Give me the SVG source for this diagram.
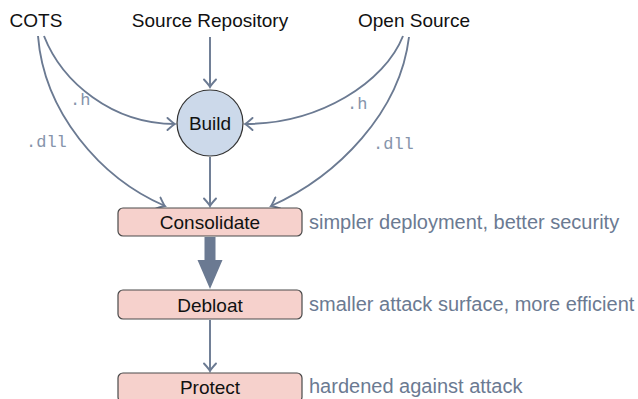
<svg xmlns="http://www.w3.org/2000/svg" width="638" height="399" viewBox="0 0 638 399">
  <style>
    .src { font-family: "Liberation Sans", Arial, sans-serif; font-size: 19px; fill: #111; text-anchor: middle; }
    .lbl { font-family: "Liberation Sans", Arial, sans-serif; font-size: 19px; fill: #111; text-anchor: middle; }
    .note { font-family: "Liberation Sans", Arial, sans-serif; font-size: 20px; fill: #6b7a92; }
    .ext { font-family: "Liberation Mono", "Courier New", monospace; font-size: 17px; fill: #8694ab; }
    .box { fill: #f6d1cc; stroke: #4a4a4a; stroke-width: 1.2; }
    .circ { fill: #ccd9ea; stroke: #333; stroke-width: 1.2; }
    .edge { fill: none; stroke: #6b7a92; stroke-width: 1.9; marker-end: url(#chev); }
  </style>
  <defs>
    <marker id="chev" markerUnits="userSpaceOnUse" markerWidth="14" markerHeight="14" viewBox="-9 -7 12 14" refX="0" refY="0" orient="auto">
      <path d="M-7.5,-6 Q-2,-1 0,0 Q-2,1 -7.5,6" fill="none" stroke="#6b7a92" stroke-width="1.9" stroke-linecap="round"/>
    </marker>
  </defs>

  <!-- sources -->
  <g id="cots"><text class="src" x="36" y="27">COTS</text></g>
  <g id="source-repository"><text class="src" x="210" y="27">Source Repository</text></g>
  <g id="open-source"><text class="src" x="414" y="27">Open Source</text></g>

  <!-- connectors -->
  <g id="connectors">
    <path class="edge" d="M210,37 L210,87"/>
    <path class="edge" d="M44,36 C62,82 112,124 175,124"/>
    <path class="edge" d="M38,36 C44,112 100,178 165,206"/>
    <path class="edge" d="M403,36 C385,82 320,124 245,124"/>
    <path class="edge" d="M409,37 C400,112 338,176 271,206"/>
    <path class="edge" d="M210,157 L210,206"/>
    <path class="edge" d="M210,320 L210,371"/>
    <!-- wide arrow from Consolidate to Debloat -->
    <path d="M204.5,237 L215.5,237 L215.5,260 L222.5,260 L210,289 L197.5,260 L204.5,260 Z" fill="#6b7a92"/>
    <text class="ext" x="70" y="105">.h</text>
    <text class="ext" x="26" y="147">.dll</text>
    <text class="ext" x="347" y="109">.h</text>
    <text class="ext" x="373" y="149">.dll</text>
  </g>

  <!-- build step -->
  <g id="build">
    <circle class="circ" cx="210" cy="123" r="33"/>
    <text class="lbl" x="210" y="130">Build</text>
  </g>

  <!-- pipeline stages -->
  <g id="consolidate">
    <rect class="box" x="118" y="208" width="184" height="28" rx="5"/>
    <text class="lbl" x="210" y="229">Consolidate</text>
  </g>
  <g id="debloat">
    <rect class="box" x="118" y="290" width="184" height="29" rx="5"/>
    <text class="lbl" x="210" y="312">Debloat</text>
  </g>
  <g id="protect">
    <rect class="box" x="118" y="373" width="184" height="29" rx="5"/>
    <text class="lbl" x="210" y="394">Protect</text>
  </g>

  <!-- stage notes -->
  <g id="notes">
    <text class="note" x="309" y="229">simpler deployment, better security</text>
    <text class="note" x="309" y="311">smaller attack surface, more efficient</text>
    <text class="note" x="309" y="393">hardened against attack</text>
  </g>
</svg>
